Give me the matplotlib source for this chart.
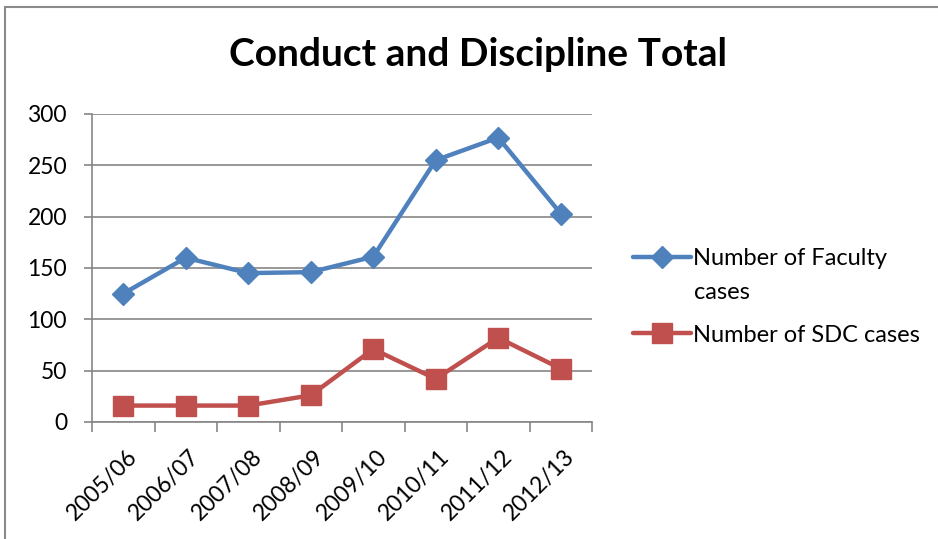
import matplotlib
matplotlib.use("Agg")
import matplotlib.pyplot as plt
from matplotlib.patches import Rectangle
import matplotlib.transforms as mtransforms
import numpy as np

years = ["2005/06", "2006/07", "2007/08", "2008/09", "2009/10", "2010/11", "2011/12", "2012/13"]
faculty = [125, 160, 145, 146, 161, 255, 277, 203]
sdc = [16, 16, 16, 26, 71, 42, 82, 52]
yticks = [0, 50, 100, 150, 200, 250, 300]

plt.rcParams['font.family'] = ['Lato', 'DejaVu Sans']

fig = plt.figure(figsize=(9.38, 5.39), dpi=100)
W, H = 938, 539
ax = fig.add_axes([92 / W, 1 - 422 / H, (592 - 92) / W, (422 - 114) / H])

# outer chart frame
fig.patches.append(Rectangle((5 / W, -0.1), 1.2, (539 - 7) / H + 0.1,
                             transform=fig.transFigure, fill=False,
                             edgecolor='#8a8a8a', linewidth=1.5))

x = np.arange(len(years))
grid_c = '#868686'
ax.plot(x, faculty, color='#4F81BD', linewidth=3.2, marker='D', markersize=11,
        label='Number of Faculty', solid_capstyle='round')
ax.plot(x, sdc, color='#C0504D', linewidth=3.2, marker='s', markersize=14,
        label='Number of SDC cases', solid_capstyle='round')

ax.set_xlim(-0.5, len(years) - 0.5)
ax.set_ylim(0, 300)
ax.set_yticks(yticks)
ax.set_yticklabels([str(v) for v in yticks], fontsize=16.5)
ax.yaxis.grid(True, color=grid_c, linewidth=1.2)
ax.set_axisbelow(True)

ax.set_xticks(x)
ax.set_xticklabels(years, rotation=45, ha='right', rotation_mode='anchor', fontsize=16.5)
ax.tick_params(axis='x', which='major', length=0, pad=17)
offset = mtransforms.ScaledTranslation(3 / 100, 0, fig.dpi_scale_trans)
for lab in ax.get_xticklabels():
    lab.set_transform(lab.get_transform() + offset)
ax.set_xticks(np.arange(-0.5, len(years)), minor=True)
ax.tick_params(axis='x', which='minor', length=7, color=grid_c, width=1.2)
ax.tick_params(axis='y', length=6, color=grid_c, width=1.2, pad=12)

for s in ['top', 'right']:
    ax.spines[s].set_visible(False)
for s in ['left', 'bottom']:
    ax.spines[s].set_color(grid_c)
    ax.spines[s].set_linewidth(1.2)

fig.text(478 / W, 1 - 55 / H, 'Conduct and Discipline Total', ha='center', va='center',
         fontsize=28, fontweight='bold')

leg = ax.legend(loc='center left', bbox_to_anchor=(612 / W, 1 - 297 / H),
                bbox_transform=fig.transFigure, frameon=False, fontsize=17,
                handlelength=2.45, handletextpad=0.1, labelspacing=2.35)

# continuation line of the first legend label (wrapped as in the reference)
fig.canvas.draw()
bb = leg.get_texts()[0].get_window_extent()
fig.text((bb.x0 + 1) / W, (bb.y0 + bb.y1) / 2 / H - 34 / H, 'cases', ha='left', va='center',
         fontsize=17)

fig.savefig('out.png', dpi=100)
